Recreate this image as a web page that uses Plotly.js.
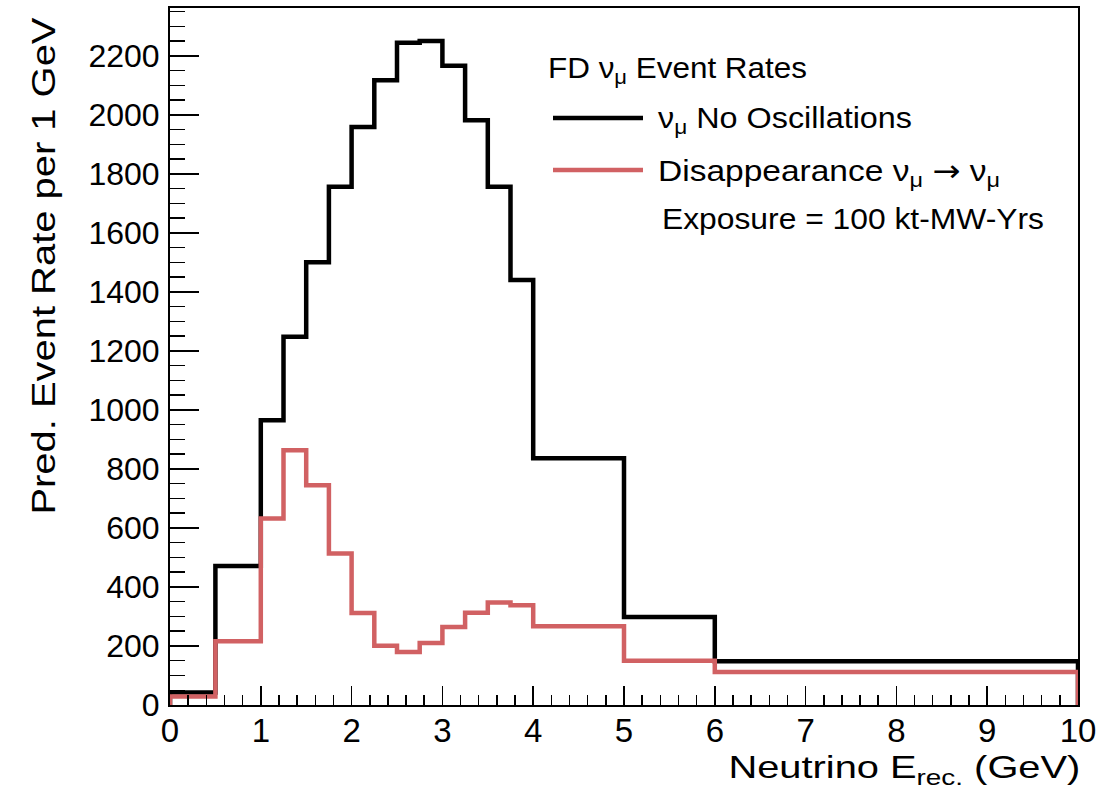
<!DOCTYPE html>
<html>
<head>
<meta charset="utf-8">
<script src="https://cdn.plot.ly/plotly-3.0.1.min.js"></script>
<style>
  html, body { margin: 0; padding: 0; background: #fff; }
  #chart { width: 1115px; height: 796px; }
</style>
</head>
<body>
<div id="chart"></div>
<script>
// ---- Data ----
const binEdges = [0, 0.5, 1, 1.25, 1.5, 1.75, 2, 2.25, 2.5, 2.75, 3, 3.25, 3.5, 3.75, 4, 5, 6, 10];
const noOscillations = [42, 471, 965, 1248, 1500, 1756, 1959, 2117, 2244, 2250, 2166, 1982, 1756, 1440, 836, 298, 148];
const disappearance = [29, 216, 632, 863, 745, 513, 312, 201, 180, 210, 264, 313, 347, 338, 267, 150, 112];

const legendHeader = 'FD ν<sub>μ</sub> Event Rates';
const seriesNames = ['ν<sub>μ</sub> No Oscillations',
                     'Disappearance ν<sub>μ</sub> <span style="font-family:DejaVu Sans">→</span> ν<sub>μ</sub>'];
const exposureText = 'Exposure = 100 kt-MW-Yrs';
const xTitle = 'Neutrino E<sub>rec.</sub> (GeV)';
const yTitle = 'Pred. Event Rate per 1 GeV';

const BLACK = '#000000';
const RED = '#d16163';
const FONT = 'Liberation Sans, Arial, Helvetica, sans-serif';

// Build a ROOT-style histogram outline (step line) from bin edges and contents
function histOutline(edges, vals) {
  const x = [edges[0]], y = [0];
  for (let i = 0; i < vals.length; i++) { x.push(edges[i]); y.push(vals[i]); }
  x.push(edges[edges.length - 1]); y.push(vals[vals.length - 1]);
  x.push(edges[edges.length - 1]); y.push(0);
  return {x, y};
}

const h1 = histOutline(binEdges, noOscillations);
const h2 = histOutline(binEdges, disappearance);

const traces = [
  {x: h1.x, y: h1.y, type: 'scatter', mode: 'lines', line: {shape: 'hv', color: BLACK, width: 4.5},
   name: 'No Oscillations', hoverinfo: 'skip'},
  {x: h2.x, y: h2.y, type: 'scatter', mode: 'lines', line: {shape: 'hv', color: RED, width: 4.5},
   name: 'Disappearance', hoverinfo: 'skip'}
];

// plot area in pixels: x 170..1078, y 8..705
const L = 170, R = 1078, T = 8, B = 705;
const px = v => (v - L) / (R - L);
const py = v => (B - v) / (B - T);

const axisCommon = {
  showline: true, linewidth: 2, linecolor: BLACK, mirror: true,
  showgrid: false, zeroline: false, ticks: 'inside', tickcolor: BLACK, tickwidth: 1.5,
  fixedrange: true
};

const layout = {
  width: 1115, height: 796,
  margin: {l: L, r: 1115 - R, t: T, b: 796 - B, pad: 0},
  paper_bgcolor: '#fff', plot_bgcolor: '#fff',
  showlegend: false,
  xaxis: Object.assign({}, axisCommon, {
    range: [0, 10], tickmode: 'linear', tick0: 0, dtick: 1, ticklen: 19,
    tickfont: {family: FONT, size: 33, color: BLACK}, ticklabelstandoff: -5,
    minor: {dtick: 0.2, ticklen: 10, tickwidth: 1.5, tickcolor: BLACK, ticks: 'inside', showgrid: false}
  }),
  yaxis: Object.assign({}, axisCommon, {
    range: [0, 2362], tickmode: 'linear', tick0: 0, dtick: 200, ticklen: 29,
    tickfont: {family: FONT, size: 32, color: BLACK}, ticklabelstandoff: 2,
    minor: {dtick: 50, ticklen: 15, tickwidth: 1.5, tickcolor: BLACK, ticks: 'inside', showgrid: false}
  }),
  shapes: [
    {type: 'line', xref: 'paper', yref: 'paper', x0: px(553), x1: px(643), y0: py(118), y1: py(118),
     line: {color: BLACK, width: 4.5}},
    {type: 'line', xref: 'paper', yref: 'paper', x0: px(553), x1: px(643), y0: py(170), y1: py(170),
     line: {color: RED, width: 4.5}}
  ],
  annotations: [
    {text: yTitle, xref: 'paper', yref: 'paper', x: px(43), y: py(266.5), xanchor: 'center', yanchor: 'middle',
     textangle: -90, showarrow: false, font: {family: FONT, size: 33, color: BLACK}},
    {text: xTitle, xref: 'paper', yref: 'paper', x: px(904), y: py(769), xanchor: 'center', yanchor: 'middle',
     showarrow: false, font: {family: FONT, size: 32, color: BLACK}},
    {text: legendHeader, xref: 'paper', yref: 'paper', x: px(546), y: py(69), xanchor: 'left', yanchor: 'middle',
     align: 'left', showarrow: false, font: {family: FONT, size: 30, color: BLACK}},
    {text: seriesNames[0], xref: 'paper', yref: 'paper', x: px(656), y: py(120), xanchor: 'left', yanchor: 'middle',
     align: 'left', showarrow: false, font: {family: FONT, size: 30, color: BLACK}},
    {text: seriesNames[1], xref: 'paper', yref: 'paper', x: px(656), y: py(172), xanchor: 'left', yanchor: 'middle',
     align: 'left', showarrow: false, font: {family: FONT, size: 30, color: BLACK}},
    {text: exposureText, xref: 'paper', yref: 'paper', x: px(660), y: py(218), xanchor: 'left', yanchor: 'middle',
     align: 'left', showarrow: false, font: {family: FONT, size: 30, color: BLACK}}
  ]
};

Plotly.newPlot('chart', traces, layout, {displayModeBar: false, staticPlot: true}).then(() => {
  // Stretch texts to the lengths seen in the reference (ROOT's wide text rendering)
  const targets = {0: 497, 1: 352, 2: 259, 3: 254, 4: 342, 5: 382};
  Object.keys(targets).forEach(i => {
    const t = document.querySelector('.annotation[data-index="' + i + '"] text.annotation-text');
    if (t) {
      t.setAttribute('textLength', targets[i]);
      t.setAttribute('lengthAdjust', 'spacingAndGlyphs');
    }
  });
});
</script>
</body>
</html>
